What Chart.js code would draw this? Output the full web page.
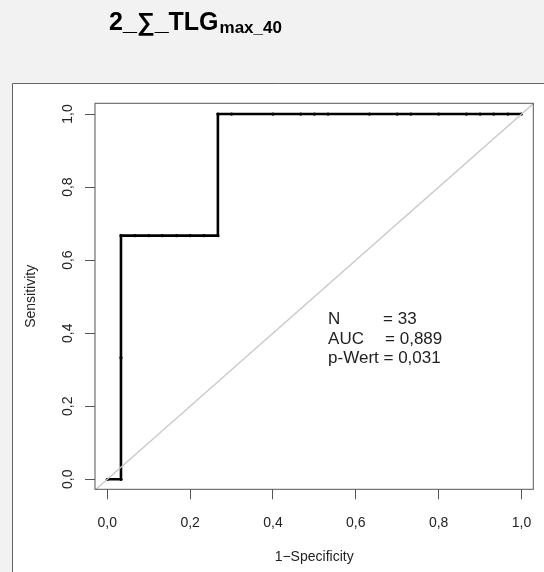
<!DOCTYPE html>
<html lang="de">
<head>
<meta charset="utf-8">
<title>2_∑_TLG max_40 – ROC</title>
<script src="https://cdn.jsdelivr.net/npm/chart.js@4.4.1/dist/chart.umd.min.js"></script>
<style>
  html, body { margin: 0; padding: 0; background: #f2f2f2; }
  #rocGrafiks { display: block; }
</style>
</head>
<body>
<canvas id="rocGrafiks" width="544" height="572"></canvas>
<script>
// ROC līknes punkti: 1-specifiskums (X) un jutīgums (Y).
const specifiskumsX = [0, 0.033, 0.033, 0.033, 0.067, 0.1, 0.133, 0.167, 0.2, 0.233, 0.267,
    0.267, 0.3, 0.4, 0.467, 0.5, 0.533, 0.633, 0.7, 0.733, 0.8, 0.867, 0.9, 0.933, 0.967, 1.0];
const jutigumsY = [0, 0, 0.333, 0.667, 0.667, 0.667, 0.667, 0.667, 0.667, 0.667, 0.667,
    1, 1, 1, 1, 1, 1, 1, 1, 1, 1, 1, 1, 1, 1, 1];

// Asu atzīmes un diagonāles (y = x) galapunkti.
const asuAtzimes = [0, 0.2, 0.4, 0.6, 0.8, 1.0];
const diagonale = [-0.1, 1.1];

// Teksti.
const virsraksts = "2_∑_TLG";
const apaksindekss = "max_40";
const xNosaukums = "1\u2212Specificity";
const yNosaukums = "Sensitivity";
const statNosaukumi = ["N", "AUC", "p-Wert"];
const statVertibas = ["33", "0,889", "0,031"];

const fonts = "'Liberation Sans', Arial, sans-serif";

// Skaitļa formatējums ar komatu.
function formatet(v) {
    return v.toFixed(1).replace(".", ",");
}

// Spraudnis fonam, rāmim un tekstiem.
const rSpraudnis = {
    id: "rStils",
    beforeDraw(chart) {
        const ctx = chart.ctx;
        ctx.save();
        ctx.fillStyle = "#f2f2f2";
        ctx.fillRect(0, 0, chart.width, chart.height);
        ctx.fillStyle = "#ffffff";
        ctx.fillRect(12.5, 83.5, chart.width, chart.height);
        ctx.strokeStyle = "#646464";
        ctx.lineWidth = 1;
        ctx.beginPath();
        ctx.moveTo(12.5, chart.height);
        ctx.lineTo(12.5, 83.5);
        ctx.lineTo(chart.width, 83.5);
        ctx.stroke();

        // Virsraksts ar apakšindeksu.
        ctx.fillStyle = "#000000";
        ctx.textAlign = "left";
        ctx.textBaseline = "alphabetic";
        ctx.font = "bold 25px " + fonts;
        ctx.fillText(virsraksts, 109, 29.5);
        const platums = ctx.measureText(virsraksts).width;
        ctx.font = "bold 17px " + fonts;
        ctx.fillText(apaksindekss, 109 + platums + 1, 32.5);
        ctx.restore();
    },
    afterDraw(chart) {
        const { ctx, chartArea: a, scales: { x, y } } = chart;
        ctx.save();

        // Zīmējuma rāmis.
        ctx.strokeStyle = "#555555";
        ctx.lineWidth = 1;
        ctx.strokeRect(a.left, a.top, a.right - a.left, a.bottom - a.top);

        // Atzīmju teksti.
        ctx.fillStyle = "#222222";
        ctx.font = "14px " + fonts;
        ctx.textAlign = "center";
        ctx.textBaseline = "alphabetic";
        asuAtzimes.forEach(v => ctx.fillText(formatet(v), x.getPixelForValue(v), 526.5));
        asuAtzimes.forEach(v => {
            ctx.save();
            ctx.translate(72, y.getPixelForValue(v));
            ctx.rotate(-Math.PI / 2);
            ctx.fillText(formatet(v), 0, 0);
            ctx.restore();
        });

        // Asu nosaukumi.
        ctx.fillText(xNosaukums, (a.left + a.right) / 2, 561);
        ctx.save();
        ctx.translate(35, (a.top + a.bottom) / 2);
        ctx.rotate(-Math.PI / 2);
        ctx.fillText(yNosaukums, 0, 0);
        ctx.restore();

        // Statistikas teksts.
        ctx.textAlign = "left";
        ctx.font = "17px " + fonts;
        const tx = x.getPixelForValue(0.533);
        const ty = [0.425, 0.370, 0.3175].map(v => y.getPixelForValue(v));
        const atstarpe = [55, 57, ctx.measureText(statNosaukumi[2] + " ").width];
        statNosaukumi.forEach((n, i) => {
            ctx.fillText(n, tx, ty[i]);
            ctx.fillText("= " + statVertibas[i], tx + atstarpe[i], ty[i]);
        });
        ctx.restore();
    }
};

const konteksts = document.getElementById("rocGrafiks").getContext("2d");

new Chart(konteksts, {
    type: "line",
    data: {
        datasets: [
            {
                label: "Diagonale",
                data: diagonale.map(v => ({ x: v, y: v })),
                borderColor: "#c8c8c8",
                borderWidth: 1.3,
                pointRadius: 0,
                clip: 0
            },
            {
                label: "ROC",
                data: specifiskumsX.map((v, i) => ({ x: v, y: jutigumsY[i] })),
                borderColor: "#000000",
                borderWidth: 2.6,
                pointRadius: 1.6,
                pointBackgroundColor: "#000000",
                pointBorderWidth: 0,
                tension: 0
            }
        ]
    },
    options: {
        responsive: false,
        animation: false,
        layout: { padding: { top: 103.3, right: 10.7, left: 0, bottom: 0 } },
        plugins: { legend: { display: false }, tooltip: { enabled: false } },
        scales: {
            x: {
                type: "linear",
                min: -0.0297,
                max: 1.0285,
                afterBuildTicks: s => { s.ticks = asuAtzimes.map(v => ({ value: v })); },
                afterFit: s => { s.height = 82.7; },
                ticks: { display: false },
                grid: { drawOnChartArea: false, tickLength: 10, color: "#555555" },
                border: { display: false }
            },
            y: {
                type: "linear",
                min: -0.0274,
                max: 1.0294,
                afterBuildTicks: s => { s.ticks = asuAtzimes.map(v => ({ value: v })); },
                afterFit: s => { s.width = 95; },
                ticks: { display: false },
                grid: { drawOnChartArea: false, tickLength: 10, color: "#555555" },
                border: { display: false }
            }
        }
    },
    plugins: [rSpraudnis]
});
</script>
</body>
</html>
